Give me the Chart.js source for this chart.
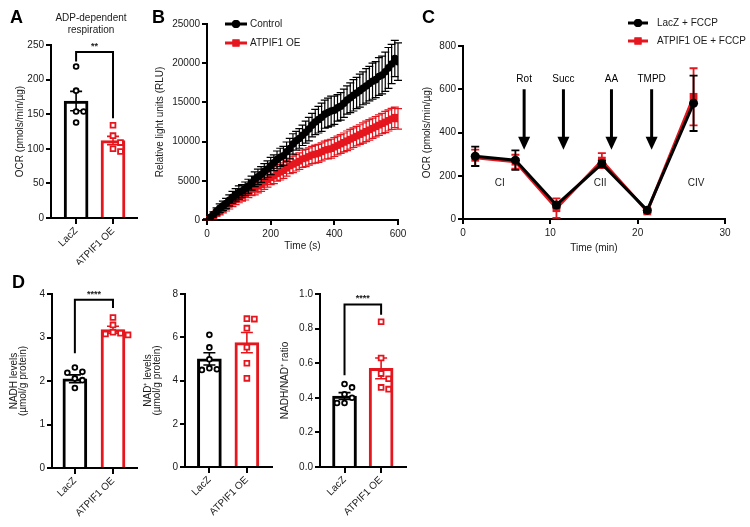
<!DOCTYPE html>
<html>
<head>
<meta charset="utf-8">
<script src="https://cdn.jsdelivr.net/npm/chart.js@4.4.0/dist/chart.umd.min.js"></script>
<style>
  html, body { margin: 0; padding: 0; background: #fff; }
  #fig { position: relative; width: 750px; height: 527px; overflow: hidden; }
  #fig canvas { position: absolute; }
</style>
</head>
<body>
<div id="fig">
  <canvas id="cA" width="150" height="265" style="left:0;top:0"></canvas>
  <canvas id="cB" width="275" height="255" style="left:140px;top:0"></canvas>
  <canvas id="cC" width="340" height="255" style="left:410px;top:0"></canvas>
  <canvas id="cD1" width="150" height="265" style="left:0;top:262px"></canvas>
  <canvas id="cD2" width="140" height="265" style="left:140px;top:262px"></canvas>
  <canvas id="cD3" width="140" height="265" style="left:275px;top:262px"></canvas>
</div>
<script>
// ---- data ----
const barCats = ["LacZ", "ATPIF1 OE"];

// A: ADP-dependent respiration
const adpMean = [169, 112];
const adpSem = [14, 6];
const adpLacZ = [219, 184, 154, 154, 138];
const adpOE = [134, 119, 109, 100, 96];
const adpBracket = [226, 240, 144]; // left leg end, top, right leg end

// B: luminescence, every 10 s
const lucTime = [
  0, 10, 20, 30, 40, 50, 60, 70, 80, 90,
  100, 110, 120, 130, 140, 150, 160, 170, 180, 190,
  200, 210, 220, 230, 240, 250, 260, 270, 280, 290,
  300, 310, 320, 330, 340, 350, 360, 370, 380, 390,
  400, 410, 420, 430, 440, 450, 460, 470, 480, 490,
  500, 510, 520, 530, 540, 550, 560, 570, 580, 590,
  600,
];
const lucControl = [
  0, 300, 700, 1100, 1500, 1800, 2100, 2500, 2900, 3200,
  3500, 3700, 4000, 4300, 4700, 5200, 5500, 5800, 6200, 6500,
  6900, 7300, 7700, 8000, 8200, 8700, 9100, 9700, 10100, 10400,
  10800, 11200, 11600, 12100, 12500, 12800, 13100, 13500, 13700, 13900,
  14000, 14300, 14500, 14900, 15300, 15600, 15900, 16200, 16500, 16800,
  17100, 17400, 17700, 17900, 18300, 18500, 18900, 19400, 19900, 20600,
  20200,
];
const lucControlSem = [
  150, 250, 350, 450, 550, 600, 650, 700, 750, 800,
  850, 800, 850, 900, 900, 950, 1000, 1000, 1000, 1050,
  1100, 1000, 1100, 1150, 1200, 1250, 1300, 1300, 1200, 1250,
  1300, 1400, 1500, 1500, 1600, 1700, 1800, 1800, 1850, 1900,
  1800, 1700, 1750, 1800, 1800, 1900, 2000, 2000, 2100, 2100,
  2200, 2200, 2300, 2300, 2400, 2400, 2500, 2600, 2500, 2300,
  2400,
];
const lucOE = [
  0, 250, 550, 850, 1100, 1400, 1700, 2000, 2300, 2600,
  2900, 3100, 3300, 3600, 3900, 4000, 4300, 4500, 4800, 5100,
  5400, 5600, 5900, 6100, 6300, 6600, 6900, 7100, 7300, 7500,
  7800, 7900, 8100, 8300, 8400, 8500, 8700, 8900, 9000, 9100,
  9300, 9500, 9700, 9900, 10100, 10300, 10500, 10700, 10900, 11100,
  11300, 11500, 11700, 11900, 12100, 12300, 12500, 12700, 12900, 13100,
  12900,
];
const lucOESem = [
  100, 200, 300, 400, 450, 500, 550, 600, 600, 650,
  700, 700, 750, 750, 800, 800, 850, 850, 900, 900,
  900, 950, 950, 1000, 1000, 1000, 1000, 1050, 1050, 1050,
  1100, 1100, 1100, 1100, 1150, 1150, 1150, 1150, 1200, 1200,
  1200, 1200, 1200, 1200, 1250, 1250, 1250, 1250, 1250, 1300,
  1300, 1300, 1300, 1300, 1300, 1300, 1350, 1350, 1350, 1300,
  1300,
];

// C: OCR trace
const ocrTime = [1.4, 6.0, 10.7, 15.9, 21.1, 26.4];
const ocrLacZ = [290, 272, 65, 255, 40, 535];
const ocrLacZSem = [45, 45, 12, 15, 8, 128];
const ocrOE = [283, 265, 50, 270, 35, 565];
const ocrOESem = [38, 32, 45, 35, 8, 132];
const injTime = [7.0, 11.5, 17.0, 21.6];
const injLabels = ["Rot", "Succ", "AA", "TMPD"];
const complexTime = [4.2, 15.7, 26.7];
const complexLabels = ["CI", "CII", "CIV"];

// D: NADH / NAD+
const nadhMean = [2.05, 3.18];
const nadhSem = [0.09, 0.08];
const nadhLacZ = [2.31, 2.21, 2.19, 2.06, 2.02, 1.84];
const nadhOE = [3.46, 3.29, 3.12, 3.10, 3.08, 3.06];
const nadhBracket = [2.64, 3.87, 3.68];

const nadMean = [5.0, 5.75];
const nadSem = [0.28, 0.47];
const nadLacZ = [6.11, 5.53, 4.98, 4.57, 4.52, 4.49];
const nadOE = [6.86, 6.84, 6.42, 5.54, 4.8, 4.1];

const ratioMean = [0.41, 0.57];
const ratioSem = [0.02, 0.06];
const ratioLacZ = [0.48, 0.46, 0.42, 0.40, 0.37, 0.37];
const ratioOE = [0.84, 0.63, 0.54, 0.51, 0.46, 0.45];
const ratioBracket = [0.53, 0.94, 0.88];

// ---- style ----
const INK = "#1a1a1a";
const RED = "#e5161e";
const barColors = ["#000", RED];
const FONT = '"Liberation Sans", Arial, Helvetica, sans-serif';

Chart.defaults.font.family = FONT;
Chart.defaults.font.size = 10;
Chart.defaults.color = INK;
Chart.defaults.animation = false;
Chart.defaults.responsive = false;
Chart.defaults.plugins.legend.display = false;
Chart.defaults.plugins.tooltip.enabled = false;

function yAxis(max, step, title, width, titlePad, fmt, lineH) {
  return {
    min: 0, max,
    ticks: { stepSize: step, padding: 2, color: INK, callback: fmt || ((v) => String(v)) },
    grid: { drawOnChartArea: false, tickLength: 5, color: "#000", lineWidth: 2 },
    border: { color: "#000", width: 2 },
    title: {
      display: true, text: title, color: INK,
      font: { size: 10, lineHeight: lineH || 1.2 },
      padding: { top: titlePad, bottom: 0 },
    },
    afterFit: (s) => { s.width = width; s.paddingTop = 0; s.paddingBottom = 0; },
  };
}

function xAxisLinear(min, max, step, title, height, titlePad) {
  return {
    type: "linear", min, max,
    ticks: { stepSize: step, padding: 3, color: INK, maxRotation: 0 },
    grid: { drawOnChartArea: false, tickLength: 5, color: "#000", lineWidth: 2 },
    border: { color: "#000", width: 2 },
    title: { display: true, text: title, color: INK, padding: { top: 0, bottom: titlePad } },
    afterFit: (s) => { s.height = height; s.paddingLeft = 0; s.paddingRight = 0; },
  };
}

function letter(ch, x, y) {
  return {
    id: "letter",
    afterDraw(chart) {
      const ctx = chart.ctx;
      ctx.save();
      ctx.font = "bold 18px " + FONT;
      ctx.fillStyle = "#000";
      ctx.textBaseline = "middle";
      ctx.fillText(ch, x, y);
      ctx.restore();
    },
  };
}

// simple beeswarm: side-by-side offsets for dots that would overlap
function swarm(vals, yMax, unitPx) {
  const pxPerVal = 173 / yMax;
  const step = 7.5;
  const cand = [0, step, -step, 2 * step, -2 * step];
  const placed = [];
  return vals.map((v) => {
    let off = 0;
    for (const c of cand) {
      const clash = placed.some((p) => Math.hypot(p.dx - c, (p.v - v) * pxPerVal) < 7);
      if (!clash) { off = c; break; }
    }
    placed.push({ v, dx: off });
    return off / unitPx;
  });
}

function barPanel(id, cfg) {
  const unitPx = cfg.unitPx;
  const dotSets = [cfg.lacz, cfg.oe].map((vals, g) => {
    const offs = swarm(vals, cfg.yMax, unitPx);
    return vals.map((v, i) => ({ x: g + offs[i], y: v }));
  });

  const extras = {
    id: "barExtras",
    afterDatasetDraw(chart, args) {
      if (args.meta.type !== "bar") return;
      const { ctx, scales: { x, y } } = chart;
      ctx.save();
      ctx.lineWidth = 1.6;
      cfg.mean.forEach((m, i) => {
        const px = x.getPixelForValue(i);
        const top = y.getPixelForValue(m + cfg.sem[i]);
        const bot = y.getPixelForValue(m - cfg.sem[i]);
        ctx.strokeStyle = barColors[i];
        ctx.beginPath();
        ctx.moveTo(px, top); ctx.lineTo(px, bot);
        ctx.moveTo(px - 6, top); ctx.lineTo(px + 6, top);
        ctx.moveTo(px - 6, bot); ctx.lineTo(px + 6, bot);
        ctx.stroke();
      });
      ctx.restore();
    },
    afterDraw(chart) {
      const { ctx, scales: { x, y } } = chart;
      ctx.save();
      if (cfg.bracket) {
        const [l, t, r] = cfg.bracket;
        const x0 = x.getPixelForValue(0), x1 = x.getPixelForValue(1);
        ctx.strokeStyle = "#000";
        ctx.lineWidth = 2;
        ctx.beginPath();
        ctx.moveTo(x0, y.getPixelForValue(l));
        ctx.lineTo(x0, y.getPixelForValue(t));
        ctx.lineTo(x1, y.getPixelForValue(t));
        ctx.lineTo(x1, y.getPixelForValue(r));
        ctx.stroke();
        ctx.fillStyle = INK;
        ctx.font = "bold 9px " + FONT;
        ctx.textAlign = "center";
        ctx.textBaseline = "bottom";
        ctx.fillText(cfg.stars, (x0 + x1) / 2, y.getPixelForValue(t) - 1);
      }
      if (cfg.heading) {
        ctx.fillStyle = INK;
        ctx.font = "10px " + FONT;
        ctx.textAlign = "center";
        ctx.textBaseline = "middle";
        cfg.heading.forEach((line, i) => ctx.fillText(line, cfg.headingX, 18 + i * 12));
      }
      ctx.restore();
    },
  };

  const plugins = [extras];
  if (cfg.letter) plugins.push(letter(cfg.letter[0], cfg.letter[1], cfg.letter[2]));

  return new Chart(document.getElementById(id), {
    type: "bar",
    data: {
      datasets: [
        {
          type: "bar", order: 3,
          data: cfg.mean.map((m, i) => ({ x: i, y: m })),
          backgroundColor: "#fff", borderColor: barColors,
          borderWidth: 3, borderSkipped: "bottom", barThickness: 24,
        },
        {
          type: "scatter", order: 1, data: dotSets[0],
          pointStyle: "circle", pointRadius: 2.4, borderWidth: 1.8,
          borderColor: "#000", backgroundColor: "#fff",
        },
        {
          type: "scatter", order: 1, data: dotSets[1],
          pointStyle: "rect", pointRadius: 3.4, borderWidth: 1.8,
          borderColor: RED, backgroundColor: "#fff",
        },
      ],
    },
    options: {
      layout: { padding: { left: 0, top: cfg.top, right: cfg.right, bottom: 0 } },
      scales: {
        x: {
          type: "linear", min: cfg.xMin, max: cfg.xMax, offset: false,
          afterBuildTicks: (s) => { s.ticks = barCats.map((c, i) => ({ value: i })); },
          afterFit: (s) => { s.height = cfg.xHeight; s.paddingLeft = 0; s.paddingRight = 0; },
          ticks: {
            callback: (v) => barCats[v], minRotation: 45, maxRotation: 45,
            autoSkip: false, padding: 1, color: INK,
          },
          grid: { drawOnChartArea: false, offset: false, tickLength: 6, color: "#000", lineWidth: 2 },
          border: { color: "#000", width: 2 },
        },
        y: yAxis(cfg.yMax, cfg.yStep, cfg.yTitle, cfg.yWidth, cfg.titlePad, cfg.fmt, cfg.lineH),
      },
    },
    plugins,
  });
}

// ---- A ----
barPanel("cA", {
  mean: adpMean, sem: adpSem, lacz: adpLacZ, oe: adpOE,
  bracket: adpBracket, stars: "**",
  yMax: 250, yStep: 50, yTitle: "OCR (pmols/min/µg)", yWidth: 51, titlePad: 14,
  xMin: -0.68, xMax: 1.65, unitPx: 37, top: 45, right: 13, xHeight: 47,
  heading: ["ADP-dependent", "respiration"], headingX: 91,
  letter: ["A", 10, 18],
});

// ---- D ----
barPanel("cD1", {
  mean: nadhMean, sem: nadhSem, lacz: nadhLacZ, oe: nadhOE,
  bracket: nadhBracket, stars: "****",
  yMax: 4, yStep: 1, yTitle: ["NADH levels", "(µmol/g protein)"], yWidth: 52, titlePad: 10, lineH: 0.85,
  xMin: -0.6, xMax: 1.63, unitPx: 38, top: 32, right: 13, xHeight: 59,
  letter: ["D", 12, 21],
});
barPanel("cD2", {
  mean: nadMean, sem: nadSem, lacz: nadLacZ, oe: nadOE,
  yMax: 8, yStep: 2, yTitle: ["NAD⁺ levels", "(µmol/g protein)"], yWidth: 45, titlePad: 4, lineH: 0.85,
  xMin: -0.65, xMax: 1.67, unitPx: 37.5, top: 32, right: 8, xHeight: 60,
});
barPanel("cD3", {
  mean: ratioMean, sem: ratioSem, lacz: ratioLacZ, oe: ratioOE,
  bracket: ratioBracket, stars: "****",
  yMax: 1, yStep: 0.2, yTitle: "NADH/NAD⁺ ratio", yWidth: 45, titlePad: 4,
  fmt: (v) => v.toFixed(1),
  xMin: -0.67, xMax: 1.68, unitPx: 36.5, top: 32, right: 9, xHeight: 60,
});

// ---- shared: error bars for line panels ----
function lineErrors(sems, cap, width) {
  return {
    id: "lineErrors",
    beforeDatasetDraw(chart, args) {
      const sem = sems[args.index];
      const ds = chart.data.datasets[args.index];
      const { ctx, scales: { x, y } } = chart;
      ctx.save();
      ctx.strokeStyle = ds.borderColor;
      ctx.lineWidth = width;
      ctx.beginPath();
      ds.data.forEach((p, i) => {
        const px = x.getPixelForValue(p.x);
        const top = y.getPixelForValue(p.y + sem[i]);
        const bot = y.getPixelForValue(Math.max(0, p.y - sem[i]));
        ctx.moveTo(px, top); ctx.lineTo(px, bot);
        ctx.moveTo(px - cap, top); ctx.lineTo(px + cap, top);
        ctx.moveTo(px - cap, bot); ctx.lineTo(px + cap, bot);
      });
      ctx.stroke();
      ctx.restore();
    },
  };
}

function legendBox(items, lx0, lx1, tx, ys) {
  return {
    id: "legendBox",
    afterDraw(chart) {
      const ctx = chart.ctx;
      ctx.save();
      items.forEach((it, i) => {
        const yy = ys[i];
        ctx.strokeStyle = it.color;
        ctx.fillStyle = it.color;
        ctx.lineWidth = 3;
        ctx.beginPath();
        ctx.moveTo(lx0, yy); ctx.lineTo(lx1, yy);
        ctx.stroke();
        Chart.helpers.drawPoint(ctx, { pointStyle: it.style, radius: it.r, borderWidth: 0 }, (lx0 + lx1) / 2, yy);
        ctx.fill();
        ctx.fillStyle = INK;
        ctx.font = "10px " + FONT;
        ctx.textBaseline = "middle";
        ctx.fillText(it.label, tx, yy);
      });
      ctx.restore();
    },
  };
}

// ---- B ----
new Chart(document.getElementById("cB"), {
  type: "line",
  data: {
    datasets: [
      {
        label: "Control",
        data: lucTime.map((t, i) => ({ x: t, y: lucControl[i] })),
        borderColor: "#000", backgroundColor: "#000", borderWidth: 2,
        pointStyle: "circle", pointRadius: 3.8, pointBorderWidth: 0,
      },
      {
        label: "ATPIF1 OE",
        data: lucTime.map((t, i) => ({ x: t, y: lucOE[i] })),
        borderColor: RED, backgroundColor: RED, borderWidth: 2,
        pointStyle: "rect", pointRadius: 4.8, pointBorderWidth: 0,
      },
    ],
  },
  options: {
    layout: { padding: { left: 0, top: 24, right: 17, bottom: 0 } },
    scales: {
      x: xAxisLinear(0, 600, 200, "Time (s)", 35, 3),
      y: yAxis(25000, 5000, "Relative light units (RLU)", 67, 14),
    },
  },
  plugins: [
    lineErrors([lucControlSem, lucOESem], 4, 1.2),
    legendBox(
      [
        { label: "Control", color: "#000", style: "circle", r: 4 },
        { label: "ATPIF1 OE", color: RED, style: "rect", r: 5 },
      ],
      85, 107, 110, [24, 43]
    ),
    letter("B", 12, 18),
  ],
});

// ---- C ----
const injections = {
  id: "injections",
  afterDraw(chart) {
    const { ctx, scales: { x, y } } = chart;
    ctx.save();
    ctx.fillStyle = "#000";
    ctx.strokeStyle = "#000";
    ctx.font = "10px " + FONT;
    ctx.textAlign = "center";
    ctx.textBaseline = "middle";
    injTime.forEach((t, i) => {
      const px = x.getPixelForValue(t);
      const y0 = y.getPixelForValue(600);
      const tip = y.getPixelForValue(320);
      ctx.lineWidth = 3;
      ctx.beginPath();
      ctx.moveTo(px, y0); ctx.lineTo(px, tip - 10);
      ctx.stroke();
      ctx.beginPath();
      ctx.moveTo(px - 6, tip - 13);
      ctx.lineTo(px + 6, tip - 13);
      ctx.lineTo(px, tip);
      ctx.closePath();
      ctx.fill();
      ctx.fillText(injLabels[i], px, y.getPixelForValue(645));
    });
    ctx.fillStyle = INK;
    complexTime.forEach((t, i) => {
      ctx.fillText(complexLabels[i], x.getPixelForValue(t), y.getPixelForValue(166));
    });
    ctx.restore();
  },
};

new Chart(document.getElementById("cC"), {
  type: "line",
  data: {
    datasets: [
      {
        label: "LacZ + FCCP",
        data: ocrTime.map((t, i) => ({ x: t, y: ocrLacZ[i] })),
        borderColor: "#000", backgroundColor: "#000", borderWidth: 3,
        pointStyle: "circle", pointRadius: 4.5, pointBorderWidth: 0,
      },
      {
        label: "ATPIF1 OE + FCCP",
        data: ocrTime.map((t, i) => ({ x: t, y: ocrOE[i] })),
        borderColor: RED, backgroundColor: RED, borderWidth: 3,
        pointStyle: "rect", pointRadius: 5.5, pointBorderWidth: 0,
      },
    ],
  },
  options: {
    layout: { padding: { left: 0, top: 46, right: 25, bottom: 0 } },
    scales: {
      x: xAxisLinear(0, 30, 10, "Time (min)", 36, 1),
      y: yAxis(800, 200, "OCR (pmols/min/µg)", 53, 11),
    },
  },
  plugins: [
    lineErrors([ocrLacZSem, ocrOESem], 4, 1.8),
    injections,
    legendBox(
      [
        { label: "LacZ + FCCP", color: "#000", style: "circle", r: 4 },
        { label: "ATPIF1 OE + FCCP", color: RED, style: "rect", r: 5 },
      ],
      218, 238, 247, [23, 41]
    ),
    letter("C", 12, 18),
  ],
});
</script>
</body>
</html>
